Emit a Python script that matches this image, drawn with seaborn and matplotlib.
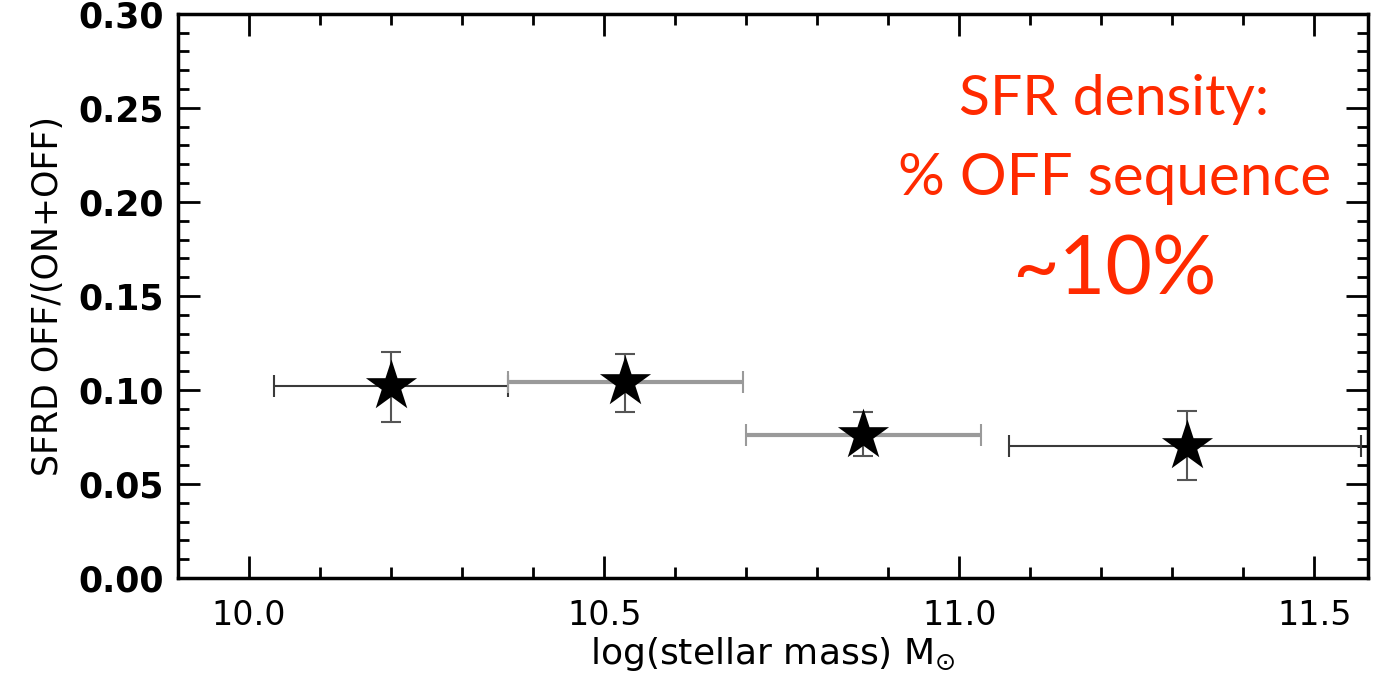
import matplotlib
matplotlib.use("Agg")
import matplotlib.pyplot as plt
import seaborn as sns
import pandas as pd

# bins in log stellar mass
mass = [10.20, 10.53, 10.865, 11.32]
mass_lo = [10.035, 10.365, 10.70, 11.07]
mass_hi = [10.365, 10.695, 11.03, 11.565]
# SFRD OFF/(ON+OFF)
frac = [0.102, 0.104, 0.076, 0.070]
frac_lo = [0.083, 0.088, 0.065, 0.052]
frac_hi = [0.120, 0.119, 0.088, 0.089]
bar_colors = ["#3a3a3a", "#9a9a9a", "#9a9a9a", "#3a3a3a"]

df = pd.DataFrame({"mass": mass, "frac": frac})

sns.set_style("ticks")
plt.rcParams['font.family'] = ['DejaVu Sans']
plt.rcParams['text.color'] = 'black'
plt.rcParams['axes.labelcolor'] = 'black'

fig = plt.figure(figsize=(13.98, 6.93), dpi=100)
ax = fig.add_axes([0.1273, 0.166, 0.851, 0.814])

for i in range(len(mass)):
    lw = 1.5 if bar_colors[i] == "#3a3a3a" else 3.0
    ax.errorbar(mass[i], frac[i],
                xerr=[[mass[i] - mass_lo[i]], [mass_hi[i] - mass[i]]],
                fmt="none", ecolor=bar_colors[i], elinewidth=lw, capsize=8, capthick=1.5)
    ax.errorbar(mass[i], frac[i],
                yerr=[[frac[i] - frac_lo[i]], [frac_hi[i] - frac[i]]],
                fmt="none", ecolor="#555555", elinewidth=1.5, capsize=7, capthick=1.5)

sns.scatterplot(data=df, x="mass", y="frac", marker="*", s=1500, color="black",
                edgecolor="black", linewidth=0, ax=ax, zorder=5)

ax.set_xlim(9.9, 11.575)
ax.set_ylim(0.0, 0.30)
ax.set_xticks([10.0, 10.5, 11.0, 11.5])
ax.set_xticklabels(["10.0", "10.5", "11.0", "11.5"], fontsize=24)
ax.set_yticks([0.0, 0.05, 0.10, 0.15, 0.20, 0.25, 0.30])
ax.set_yticklabels(["0.00", "0.05", "0.10", "0.15", "0.20", "0.25", "0.30"],
                   fontsize=25, fontweight="bold")
ax.xaxis.set_minor_locator(matplotlib.ticker.MultipleLocator(0.1))
ax.yaxis.set_minor_locator(matplotlib.ticker.MultipleLocator(0.01))
ax.tick_params(which="both", direction="in", top=True, right=True, width=2, colors="black")
ax.tick_params(which="major", length=16)
ax.tick_params(which="minor", length=8)
ax.tick_params(axis="x", which="major", pad=15)
ax.tick_params(axis="y", which="major", pad=10)
for s in ax.spines.values():
    s.set_linewidth(2.5)
    s.set_color("black")

ax.set_xlabel(r"log(stellar mass) M$_{\odot}$", fontsize=26, labelpad=2)
ax.set_ylabel("SFRD OFF/(ON+OFF)", fontsize=25, labelpad=10)

red = "#ff2a00"
fam = ["Lato", "DejaVu Sans"]
ax.text(0.787, 0.848, "SFR density:", transform=ax.transAxes, color=red,
        fontsize=41, ha="center", va="center", family=fam)
ax.text(0.787, 0.709, "% OFF sequence", transform=ax.transAxes, color=red,
        fontsize=42, ha="center", va="center", family=fam)
ax.text(0.787, 0.543, "~10%", transform=ax.transAxes, color=red,
        fontsize=58, ha="center", va="center", family=fam)

fig.savefig("out.png", dpi=100)
